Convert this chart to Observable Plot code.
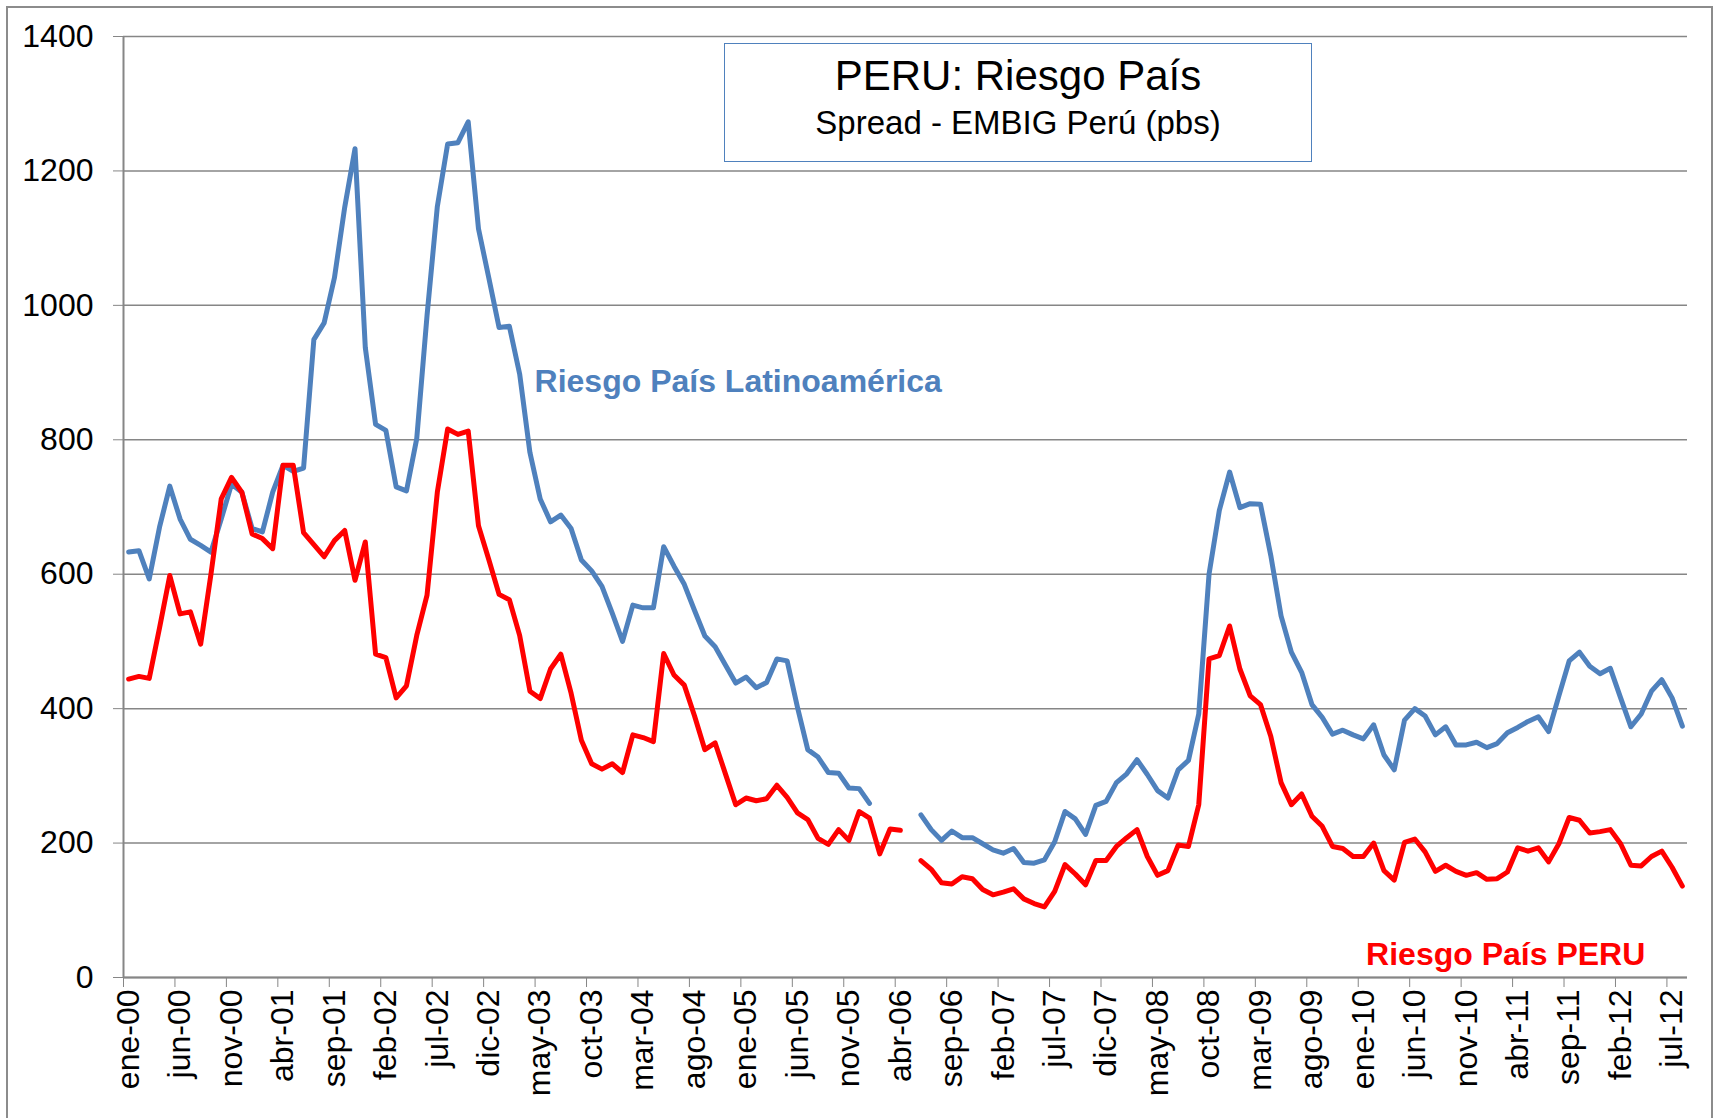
<!DOCTYPE html>
<html>
<head>
<meta charset="utf-8">
<script src="https://cdn.jsdelivr.net/npm/d3@7"></script>
<script src="https://cdn.jsdelivr.net/npm/@observablehq/plot@0.6"></script>
<style>
  html, body { margin: 0; padding: 0; background: #fff; }
  #wrap { position: relative; width: 1717px; height: 1118px; overflow: hidden; font-family: "Liberation Sans", Arial, sans-serif; }
  #chart { position: absolute; left: 0; top: 0; }
  #border { position: absolute; left: 6px; top: 6px; width: 1707px; height: 1140px; border: 2px solid #8c8c8c; box-sizing: border-box; pointer-events: none; }
  #titlebox { position: absolute; left: 724px; top: 43px; width: 588px; height: 119px; border: 1.5px solid #4F81BD; background: #fff; box-sizing: border-box; text-align: center; color: #000; }
  #titlebox .t1 { position: absolute; left: 0; right: 0; top: 8px; font-size: 42px; line-height: 48px; }
  #titlebox .t2 { position: absolute; left: 0; right: 0; top: 61px; font-size: 33px; line-height: 36px; }
</style>
</head>
<body>
<div id="wrap">
  <div id="chart"></div>
  <div id="titlebox"><div class="t1">PERU: Riesgo País</div><div class="t2">Spread - EMBIG Perú (pbs)</div></div>
  <div id="border"></div>
</div>
<script>
// ---- categories (monthly, ene-00 .. ago-12) ----
const monthAbbr = ["ene","feb","mar","abr","may","jun","jul","ago","sep","oct","nov","dic"];
const startYear = 2000;
const nMonths = 152;
const months = d3.range(nMonths).map(i => monthAbbr[i % 12] + "-" + String((startYear + Math.floor(i / 12)) % 100).padStart(2, "0"));

// ---- series values (pbs) ----
const latam = [
  633, 635, 593, 670, 731, 682, 652, 643, 633, 682, 734, 722,
  668, 663, 722, 762, 753, 758, 949, 974, 1041, 1146, 1233, 937,
  823, 814, 730, 724, 802, 985, 1147, 1240, 1242, 1273, 1114, 1041,
  967, 969, 898, 781, 712, 678, 688, 668, 621, 605, 582, 542,
  500, 554, 550, 550, 641, 612, 585, 546, 508, 492, 465, 438,
  447, 431, 439, 474, 471, 402, 339, 328, 305, 304, 282, 281,
  259, null, null, null, null, 242, 220, 204, 218, 208, 208, 199,
  190, 185, 192, 171, 170, 175, 202, 247, 236, 213, 256, 262,
  290, 303, 324, 302, 278, 267, 309, 323, 392, 600, 695, 752,
  699, 705, 704, 628, 538, 484, 454, 406, 387, 362, 368, 361,
  355, 376, 331, 309, 383, 400, 389, 361, 373, 346, 346, 350,
  342, 348, 364, 372, 381, 388, 366, 419, 471, 484, 463, 452,
  460, 416, 373, 392, 426, 443, 416, 374
];
const peru = [
  444, 448, 445, 520, 598, 541, 544, 496, 600, 712, 744, 722,
  660, 653, 638, 762, 762, 662, 644, 626, 650, 665, 591, 648,
  481, 476, 416, 434, 509, 569, 722, 816, 808, 813, 672, 622,
  570, 562, 509, 426, 415, 459, 481, 423, 353, 318, 310, 318,
  305, 361, 357, 351, 482, 450, 435, 389, 339, 349, 303, 257,
  267, 263, 266, 286, 268, 245, 235, 207, 198, 220, 204, 247,
  237, 184, 221, 219, null, 174, 161, 141, 139, 150, 147, 131,
  123, 127, 132, 117, 110, 105, 128, 168, 154, 138, 174, 174,
  195, 208, 220, 180, 152, 159, 197, 195, 257, 474, 479, 523,
  459, 419, 406, 359, 290, 257, 273, 240, 225, 195, 192, 180,
  180, 200, 159, 145, 201, 206, 187, 158, 167, 158, 152, 156,
  146, 147, 157, 193, 188, 193, 172, 199, 238, 234, 215, 217,
  220, 199, 167, 166, 180, 188, 164, 136
];

// ---- axis ticks ----
const yTicks = [0, 200, 400, 600, 800, 1000, 1200, 1400];
const labelStep = 5;
const xLabelIdx = d3.range(0, nMonths, labelStep);

// ---- series annotations ----
const seriesNames = ["Riesgo País Latinoamérica", "Riesgo País PERU"];
const seriesColors = ["#4F81BD", "#FF0000"];
const labelPos = [{i: 39.45, v: 886}, {i: 147.4, v: 34}];

const latamData = latam.map((v, i) => ({i, v}));
const peruData = peru.map((v, i) => ({i, v}));

const gridColor = "#868686";

const chart = Plot.plot({
  width: 1717,
  height: 1118,
  marginLeft: 123,
  marginRight: 30,
  marginTop: 36,
  marginBottom: 141,
  style: {fontFamily: "'Liberation Sans', Arial, sans-serif", fontSize: "32px", color: "#000", background: "transparent", overflow: "visible"},
  x: {type: "linear", domain: [-0.5, nMonths - 0.5], axis: null},
  y: {domain: [0, 1400], axis: null},
  marks: [
    Plot.gridY(yTicks, {stroke: gridColor, strokeOpacity: 1, strokeWidth: 1.5}),
    Plot.ruleX([-0.5], {stroke: gridColor, strokeWidth: 2}),
    Plot.ruleY([0], {stroke: gridColor, strokeWidth: 2}),
    Plot.axisY(yTicks, {tickSize: 10, tickPadding: 20, stroke: gridColor, fill: "#000", fontSize: 32, tickFormat: d => String(d), label: null}),
    Plot.axisX(xLabelIdx.map(i => i - 0.5), {tickSize: 10, stroke: gridColor, tickFormat: () => "", label: null}),
    Plot.axisX(xLabelIdx, {tickSize: 0, tickPadding: 12, tickRotate: -90, tickFormat: i => months[i], fill: "#000", fontSize: 32, label: null}),
    Plot.line(latamData, {x: "i", y: "v", stroke: seriesColors[0], strokeWidth: 5, strokeLinejoin: "round", strokeLinecap: "round"}),
    Plot.line(peruData, {x: "i", y: "v", stroke: seriesColors[1], strokeWidth: 5, strokeLinejoin: "round", strokeLinecap: "round"}),
    Plot.text([seriesNames[0]], {x: labelPos[0].i, y: labelPos[0].v, text: d => d, fill: seriesColors[0], textAnchor: "start", fontWeight: "bold", fontSize: 32}),
    Plot.text([seriesNames[1]], {x: labelPos[1].i, y: labelPos[1].v, text: d => d, fill: seriesColors[1], textAnchor: "end", fontWeight: "bold", fontSize: 32})
  ]
});
document.getElementById("chart").appendChild(chart);
</script>
</body>
</html>
